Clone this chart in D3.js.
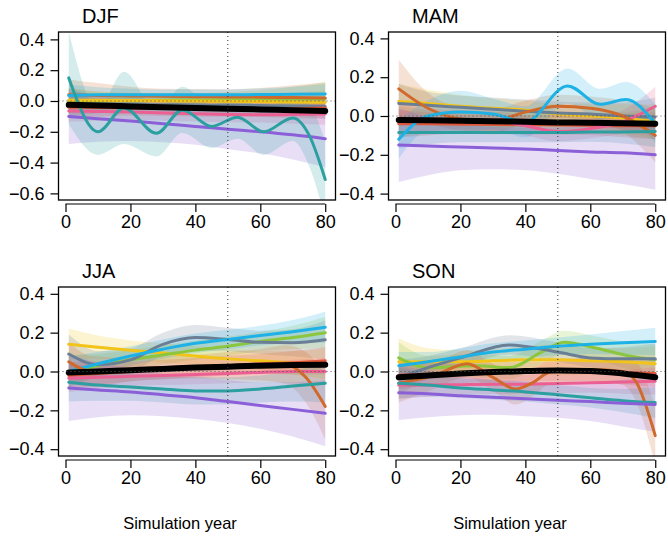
<!DOCTYPE html>
<html>
<head>
<meta charset="utf-8">
<script src="https://cdn.jsdelivr.net/npm/d3@7"></script>
<style>
  body { margin: 0; background: #fff; }
  svg { display: block; font-family: "Liberation Sans", Arial, sans-serif; }
</style>
</head>
<body>
<svg id="chart" width="668" height="541"></svg>
<script>
const years = [1, 10, 20, 30, 40, 50, 60, 70, 80];
const xTicks = [0, 20, 40, 60, 80];
const yTicksDJF = [-0.6, -0.4, -0.2, 0, 0.2, 0.4];
const yTicksOther = [-0.4, -0.2, 0, 0.2, 0.4];
const seasons = ['DJF', 'MAM', 'JJA', 'SON'];

// y = smoothed anomaly, se = half width of the shaded band
const djf = [
  { model: 'm02', x: years, y: [0.0, 0.0, 0.002, 0.004, 0.006, 0.008, 0.01, 0.012, 0.015], se: [0.08, 0.06, 0.05, 0.045, 0.045, 0.05, 0.06, 0.08, 0.11] },
  { model: 'm04', x: years, y: [0.005, 0.004, 0.003, 0.002, 0.0, -0.002, -0.004, -0.006, -0.008], se: [0.08, 0.06, 0.05, 0.05, 0.05, 0.05, 0.05, 0.06, 0.08] },
  { model: 'm03', x: years, y: [-0.02, -0.02, -0.022, -0.024, -0.026, -0.028, -0.03, -0.032, -0.035], se: [0.08, 0.06, 0.05, 0.05, 0.05, 0.05, 0.05, 0.06, 0.08] },
  { model: 'm06', x: years, y: [-0.04, -0.042, -0.045, -0.048, -0.05, -0.052, -0.054, -0.05, -0.045], se: [0.07, 0.06, 0.05, 0.05, 0.05, 0.05, 0.05, 0.06, 0.07] },
  { model: 'm07', x: years, y: [-0.065, -0.068, -0.072, -0.078, -0.083, -0.088, -0.09, -0.088, -0.085], se: [0.07, 0.06, 0.05, 0.05, 0.05, 0.05, 0.05, 0.06, 0.07] },
  { model: 'm05', x: years, y: [0.04, 0.036, 0.033, 0.03, 0.028, 0.026, 0.025, 0.022, 0.02], se: [0.1, 0.08, 0.06, 0.05, 0.05, 0.05, 0.06, 0.08, 0.1] },
  { model: 'm01', x: years, y: [0.035, 0.04, 0.04, 0.04, 0.04, 0.04, 0.042, 0.043, 0.045], se: [0.07, 0.05, 0.04, 0.035, 0.035, 0.035, 0.04, 0.05, 0.065] },
  { model: 'm09', x: years, y: [-0.1, -0.115, -0.13, -0.148, -0.165, -0.183, -0.2, -0.22, -0.245], se: [0.18, 0.15, 0.13, 0.12, 0.12, 0.13, 0.14, 0.16, 0.185] },
  { model: 'm08', x: [1, 10, 18, 28, 36, 45, 53, 61, 70, 75, 80], y: [0.15, -0.2, -0.045, -0.21, -0.058, -0.165, -0.105, -0.2, -0.11, -0.22, -0.51], se: [0.3, 0.15, 0.235, 0.15, 0.15, 0.14, 0.14, 0.15, 0.15, 0.2, 0.25] },
  { model: 'mean', x: years, y: [-0.025, -0.03, -0.035, -0.04, -0.045, -0.05, -0.055, -0.06, -0.065], se: null }
];

const mam = [
  { model: 'm02', x: years, y: [-0.03, -0.03, -0.03, -0.03, -0.03, -0.035, -0.035, -0.04, -0.04], se: [0.08, 0.06, 0.05, 0.05, 0.05, 0.05, 0.05, 0.06, 0.08] },
  { model: 'm04', x: years, y: [0.075, 0.065, 0.05, 0.04, 0.03, 0.01, 0.0, -0.01, -0.03], se: [0.09, 0.07, 0.06, 0.05, 0.05, 0.05, 0.06, 0.07, 0.09] },
  { model: 'm03', x: years, y: [0.065, 0.055, 0.045, 0.035, 0.025, 0.015, 0.01, 0.0, -0.005], se: [0.1, 0.07, 0.06, 0.06, 0.06, 0.06, 0.06, 0.07, 0.1] },
  { model: 'm06', x: years, y: [-0.04, -0.04, -0.042, -0.044, -0.045, -0.046, -0.048, -0.05, -0.05], se: [0.07, 0.06, 0.05, 0.05, 0.05, 0.05, 0.05, 0.06, 0.07] },
  { model: 'm07', x: years, y: [-0.02, -0.02, -0.02, -0.025, -0.05, -0.08, -0.065, -0.03, 0.05], se: [0.08, 0.06, 0.05, 0.05, 0.05, 0.05, 0.05, 0.06, 0.1] },
  { model: 'm05', x: years, y: [0.14, 0.04, -0.015, -0.025, 0.02, 0.05, 0.04, 0.0, -0.1], se: [0.15, 0.08, 0.06, 0.06, 0.06, 0.06, 0.06, 0.08, 0.14] },
  { model: 'm08', x: years, y: [-0.085, -0.085, -0.085, -0.085, -0.085, -0.085, -0.083, -0.082, -0.08], se: [0.08, 0.06, 0.05, 0.05, 0.05, 0.05, 0.05, 0.06, 0.08] },
  { model: 'm01', x: [1, 10, 20, 30, 40, 53, 63, 71, 80], y: [-0.12, 0.0, 0.02, 0.01, -0.03, 0.155, 0.06, 0.085, -0.04], se: [0.1, 0.08, 0.11, 0.08, 0.08, 0.09, 0.08, 0.09, 0.1] },
  { model: 'm09', x: years, y: [-0.15, -0.155, -0.16, -0.165, -0.17, -0.178, -0.185, -0.19, -0.2], se: [0.19, 0.15, 0.12, 0.11, 0.11, 0.12, 0.14, 0.16, 0.18] },
  { model: 'mean', x: years, y: [-0.02, -0.022, -0.025, -0.027, -0.03, -0.033, -0.035, -0.038, -0.04], se: null }
];

const jja = [
  { model: 'm04', x: years, y: [0.14, 0.125, 0.11, 0.095, 0.08, 0.065, 0.055, 0.045, 0.04], se: [0.08, 0.06, 0.05, 0.05, 0.05, 0.05, 0.05, 0.06, 0.08] },
  { model: 'm02', x: years, y: [0.0, 0.03, 0.06, 0.085, 0.11, 0.13, 0.155, 0.175, 0.2], se: [0.08, 0.06, 0.05, 0.05, 0.05, 0.05, 0.05, 0.06, 0.08] },
  { model: 'm03', x: years, y: [0.09, 0.035, 0.06, 0.14, 0.175, 0.165, 0.15, 0.148, 0.163], se: [0.1, 0.07, 0.06, 0.06, 0.065, 0.06, 0.06, 0.07, 0.1] },
  { model: 'm01', x: years, y: [0.0, 0.04, 0.08, 0.115, 0.145, 0.165, 0.185, 0.205, 0.228], se: [0.08, 0.06, 0.05, 0.05, 0.05, 0.05, 0.05, 0.06, 0.08] },
  { model: 'm06', x: years, y: [-0.02, -0.01, 0.0, 0.01, 0.02, 0.03, 0.04, 0.045, 0.055], se: [0.07, 0.06, 0.05, 0.05, 0.05, 0.05, 0.05, 0.06, 0.07] },
  { model: 'm07', x: years, y: [-0.035, -0.03, -0.025, -0.02, -0.015, -0.01, -0.005, 0.0, 0.0], se: [0.07, 0.06, 0.05, 0.05, 0.05, 0.05, 0.05, 0.06, 0.07] },
  { model: 'm05', x: [1, 8, 20, 30, 40, 50, 60, 68, 74, 80], y: [0.05, 0.0, 0.01, 0.02, 0.025, 0.03, 0.035, 0.035, -0.03, -0.18], se: [0.1, 0.08, 0.06, 0.06, 0.06, 0.07, 0.08, 0.1, 0.13, 0.17] },
  { model: 'm08', x: years, y: [-0.055, -0.07, -0.08, -0.09, -0.1, -0.1, -0.09, -0.075, -0.06], se: [0.1, 0.08, 0.07, 0.07, 0.07, 0.07, 0.07, 0.08, 0.1] },
  { model: 'm09', x: years, y: [-0.085, -0.095, -0.105, -0.12, -0.135, -0.155, -0.175, -0.195, -0.215], se: [0.17, 0.14, 0.12, 0.11, 0.11, 0.11, 0.12, 0.14, 0.17] },
  { model: 'mean', x: years, y: [-0.005, 0.0, 0.007, 0.013, 0.02, 0.025, 0.03, 0.033, 0.035], se: null }
];

const son = [
  { model: 'm04', x: years, y: [0.05, 0.05, 0.05, 0.055, 0.06, 0.06, 0.055, 0.05, 0.04], se: [0.12, 0.07, 0.06, 0.06, 0.07, 0.08, 0.07, 0.07, 0.09] },
  { model: 'm02', x: [1, 10, 25, 35, 45, 52, 62, 72, 80], y: [0.07, 0.02, 0.03, 0.02, 0.1, 0.15, 0.12, 0.08, 0.06], se: [0.08, 0.06, 0.06, 0.06, 0.06, 0.06, 0.06, 0.07, 0.08] },
  { model: 'm03', x: [1, 10, 20, 35, 50, 60, 70, 80], y: [-0.03, 0.02, 0.07, 0.137, 0.1, 0.07, 0.065, 0.065], se: [0.09, 0.06, 0.05, 0.05, 0.05, 0.05, 0.06, 0.08] },
  { model: 'm01', x: years, y: [0.03, 0.05, 0.075, 0.1, 0.115, 0.13, 0.14, 0.148, 0.155], se: [0.07, 0.05, 0.045, 0.045, 0.045, 0.045, 0.05, 0.06, 0.07] },
  { model: 'm06', x: years, y: [-0.02, -0.015, -0.01, -0.005, 0.0, 0.0, 0.0, -0.005, -0.01], se: [0.07, 0.06, 0.05, 0.05, 0.05, 0.05, 0.05, 0.06, 0.07] },
  { model: 'm07', x: years, y: [-0.07, -0.07, -0.068, -0.066, -0.065, -0.062, -0.058, -0.054, -0.05], se: [0.07, 0.06, 0.05, 0.05, 0.05, 0.05, 0.05, 0.06, 0.07] },
  { model: 'm05', x: [1, 12, 22, 30, 37, 42, 48, 60, 70, 74, 80], y: [-0.06, -0.02, 0.04, -0.03, -0.09, -0.06, 0.0, 0.01, 0.0, -0.05, -0.33], se: [0.1, 0.07, 0.07, 0.07, 0.08, 0.07, 0.06, 0.06, 0.07, 0.1, 0.15] },
  { model: 'm08', x: years, y: [-0.06, -0.07, -0.085, -0.095, -0.105, -0.12, -0.135, -0.15, -0.16], se: [0.08, 0.06, 0.05, 0.05, 0.05, 0.05, 0.05, 0.06, 0.08] },
  { model: 'm09', x: years, y: [-0.11, -0.115, -0.125, -0.133, -0.14, -0.148, -0.155, -0.163, -0.17], se: [0.14, 0.12, 0.1, 0.09, 0.09, 0.09, 0.1, 0.12, 0.14] },
  { model: 'mean', x: years, y: [-0.03, -0.02, -0.01, -0.003, 0.002, 0.005, 0.003, -0.01, -0.03], se: null }
];

const modelColors = {
  m01: '#1eb1e6', m02: '#8cc63e', m03: '#6a7f95', m04: '#f2c318', m05: '#d06a2c',
  m06: '#e0563a', m07: '#ec5f92', m08: '#2c9fa0', m09: '#8b5fd8', mean: '#000000'
};

const panels = [
  { title: 'DJF', data: djf, left: 58.5, top: 32, w: 277, h: 168, yDomain: [-0.643, 0.448], yTicks: yTicksDJF, xlab: false },
  { title: 'MAM', data: mam, left: 388.5, top: 32, w: 277, h: 168, yDomain: [-0.433, 0.433], yTicks: yTicksOther, xlab: false },
  { title: 'JJA', data: jja, left: 58.5, top: 287, w: 277, h: 169, yDomain: [-0.435, 0.435], yTicks: yTicksOther, xlab: true },
  { title: 'SON', data: son, left: 388.5, top: 287, w: 277, h: 169, yDomain: [-0.435, 0.435], yTicks: yTicksOther, xlab: true }
];

const svg = d3.select('#chart');
const fmt = d3.format('.1f');

panels.forEach((p, i) => {
  const g = svg.append('g').attr('transform', `translate(${p.left},${p.top})`);

  // R style: x range 1..80 padded by 4%
  const x = d3.scaleLinear().domain([1 - 0.04 * 79, 80 + 0.04 * 79]).range([0, p.w]);
  const y = d3.scaleLinear().domain(p.yDomain).range([p.h, 0]);

  svg.append('clipPath').attr('id', 'clip' + i)
    .append('rect').attr('width', p.w).attr('height', p.h);

  const plot = g.append('g').attr('clip-path', `url(#clip${i})`);

  const pts = s => s.x.map((v, k) => ({ x: v, y: s.y[k], se: s.se ? s.se[k] : 0 }));

  const band = d3.area()
    .x(d => x(d.x))
    .y0(d => y(d.y - d.se))
    .y1(d => y(d.y + d.se))
    .curve(d3.curveMonotoneX);

  const line = d3.line()
    .x(d => x(d.x))
    .y(d => y(d.y))
    .curve(d3.curveMonotoneX);

  // shaded bands first
  plot.selectAll('.band')
    .data(p.data.filter(s => s.se))
    .enter().append('path')
    .attr('class', 'band')
    .attr('d', s => band(pts(s)))
    .attr('fill', s => modelColors[s.model])
    .attr('fill-opacity', 0.2)
    .attr('stroke', 'none');

  plot.selectAll('.smooth')
    .data(p.data)
    .enter().append('path')
    .attr('class', 'smooth')
    .attr('d', s => line(pts(s)))
    .attr('fill', 'none')
    .attr('stroke', s => modelColors[s.model])
    .attr('stroke-width', s => s.model === 'mean' ? 6 : 3)
    .attr('stroke-linecap', 'round');

  // zero line and year-50 marker
  plot.append('line')
    .attr('x1', 0).attr('x2', p.w)
    .attr('y1', y(0)).attr('y2', y(0))
    .attr('stroke', '#555').attr('stroke-width', 1)
    .attr('stroke-dasharray', '1,3');

  plot.append('line')
    .attr('x1', x(50)).attr('x2', x(50))
    .attr('y1', 0).attr('y2', p.h)
    .attr('stroke', '#333').attr('stroke-width', 1)
    .attr('stroke-dasharray', '1,3');

  // box
  g.append('rect')
    .attr('width', p.w).attr('height', p.h)
    .attr('fill', 'none').attr('stroke', '#000').attr('stroke-width', 1.3);

  // y axis
  const yAxis = g.append('g')
    .call(d3.axisLeft(y).tickValues(p.yTicks).tickSize(8).tickPadding(6).tickFormat(fmt));
  yAxis.select('.domain').remove();
  yAxis.selectAll('line').attr('stroke', '#000').attr('stroke-width', 1.2);
  yAxis.selectAll('text').attr('fill', '#000').style('font-size', '18px')
    .style('font-family', '"Liberation Sans", Arial, sans-serif');

  // x axis, offset a little below the box
  const xAxis = g.append('g')
    .attr('transform', `translate(0,${p.h + 4})`)
    .call(d3.axisBottom(x).tickValues(xTicks).tickSize(8).tickPadding(3).tickFormat(d3.format('d')));
  xAxis.select('.domain').remove();
  xAxis.append('line')
    .attr('x1', x(xTicks[0])).attr('x2', x(xTicks[xTicks.length - 1]))
    .attr('stroke', '#000').attr('stroke-width', 1.2);
  xAxis.selectAll('line').attr('stroke', '#000').attr('stroke-width', 1.2);
  xAxis.selectAll('text').attr('fill', '#000').style('font-size', '18px')
    .style('font-family', '"Liberation Sans", Arial, sans-serif');

  // season title
  g.append('text')
    .attr('x', 23.5).attr('y', -9)
    .style('font-size', '20px')
    .text(p.title);

  if (p.xlab) {
    g.append('text')
      .attr('x', p.w / 2 - 17).attr('y', 242)
      .attr('text-anchor', 'middle')
      .style('font-size', '16.5px')
      .text('Simulation year');
  }
});
</script>
</body>
</html>
